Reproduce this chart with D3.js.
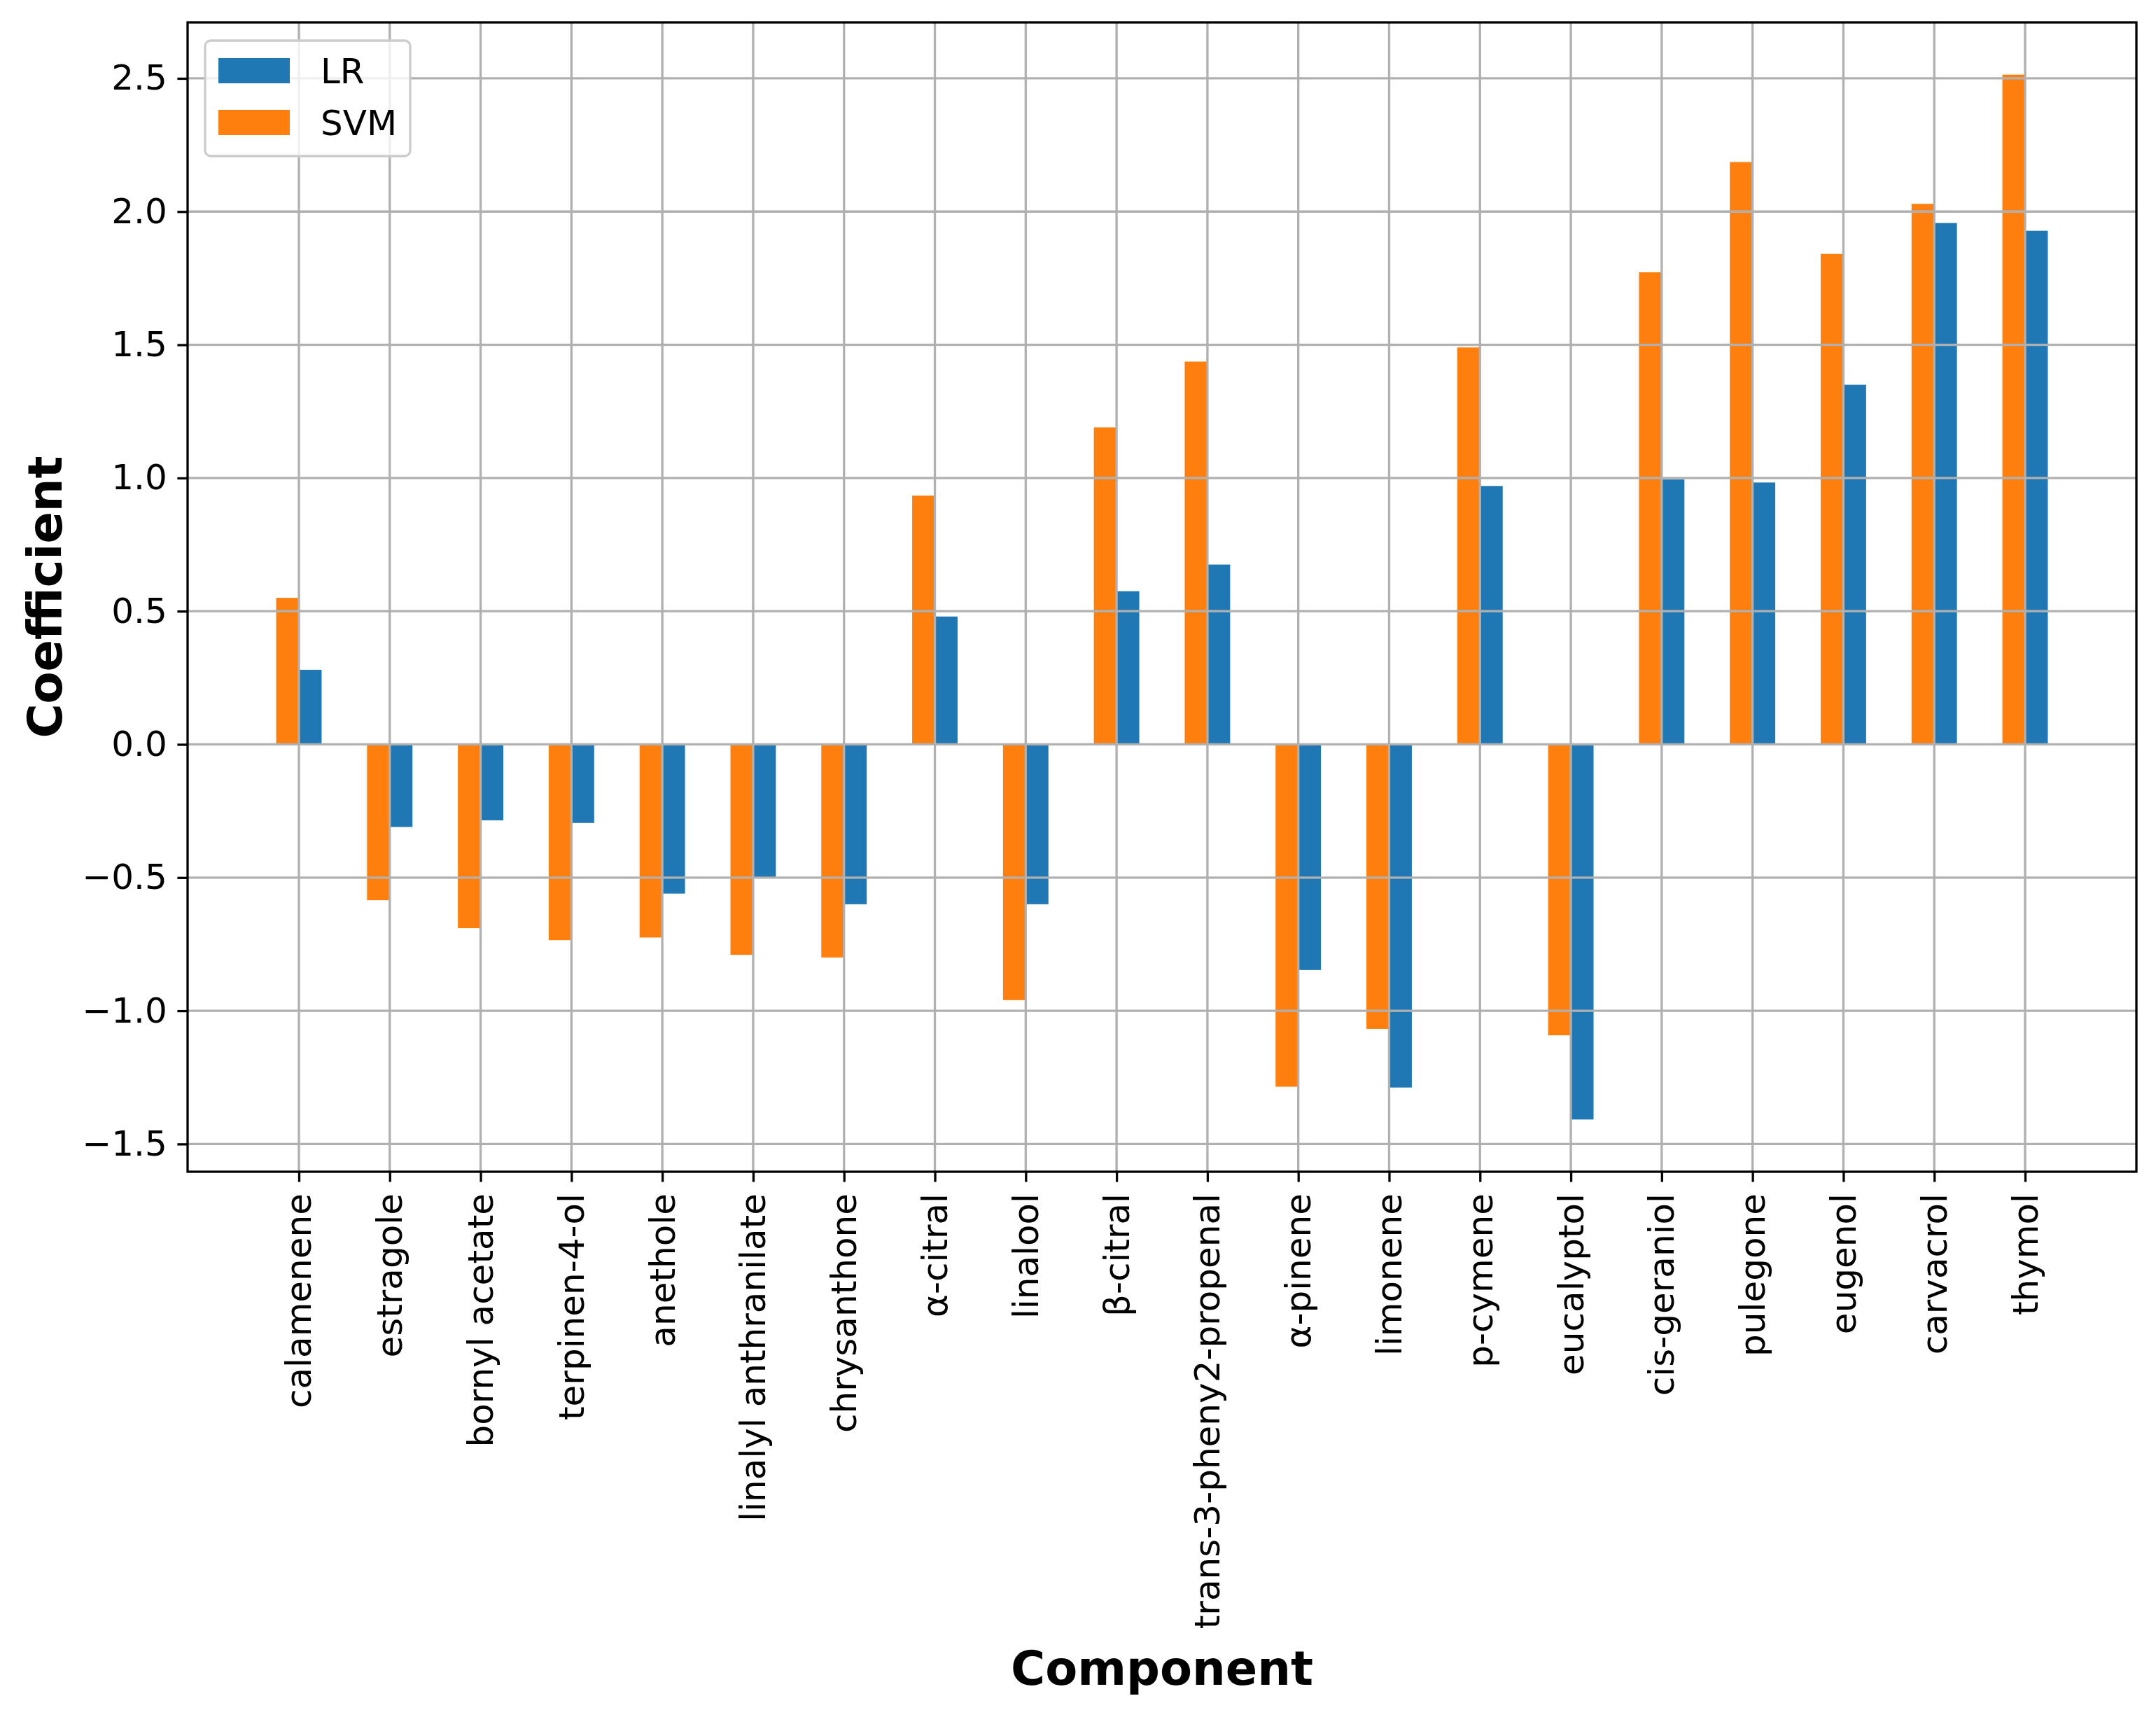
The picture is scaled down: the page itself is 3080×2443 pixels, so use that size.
<!DOCTYPE html>
<html lang="en">
<head>
    <meta charset="UTF-8">
    <title>Coefficient by component</title>
    <script src="https://d3js.org/d3.v7.min.js"></script>
    <style>
        body { margin: 0; background: #fff; }
        svg { display: block; font-family: "DejaVu Sans", sans-serif; }
    </style>
</head>
<body>
    <svg id="chart" width="3080" height="2443"></svg>

    <script>
        // Components along the x axis
        var components = ["calamenene", "estragole", "bornyl acetate", "terpinen-4-ol", "anethole",
            "linalyl anthranilate", "chrysanthone", "α-citral", "linalool", "β-citral",
            "trans-3-pheny2-propenal", "α-pinene", "limonene", "p-cymene", "eucalyptol",
            "cis-geraniol", "pulegone", "eugenol", "carvacrol", "thymol"];

        // Coefficients
        var lrValues = [0.28, -0.31, -0.285, -0.295, -0.56, -0.50, -0.60, 0.48, -0.60, 0.575,
            0.675, -0.847, -1.288, 0.97, -1.408, 0.995, 0.983, 1.35, 1.957, 1.928];
        var svmValues = [0.55, -0.585, -0.69, -0.735, -0.725, -0.79, -0.80, 0.934, -0.96, 1.19,
            1.437, -1.285, -1.068, 1.49, -1.092, 1.772, 2.186, 1.841, 2.029, 2.514];

        var yTicks = [-1.5, -1.0, -0.5, 0.0, 0.5, 1.0, 1.5, 2.0, 2.5];
        var seriesNames = ["LR", "SVM"];
        var seriesColors = ["#1f77b4", "#ff7f0e"];

        var svg = d3.select("#chart");
        svg.append("rect").attr("width", 3080).attr("height", 2443).attr("fill", "#fff");

        // plot box (note: "top" is taken by window.top, so use other names)
        var plotLeft = 268, plotRight = 3052, plotTop = 32, plotBottom = 1674;
        var barW = 0.25;
        var font = "DejaVu Sans";

        // matplotlib style auto margins (5%)
        var x = d3.scaleLinear().domain([-1.225, 20.225]).range([plotLeft, plotRight]);
        var yMin = d3.min(lrValues.concat(svmValues)), yMax = d3.max(lrValues.concat(svmValues));
        var pad = (yMax - yMin) * 0.05;
        var y = d3.scaleLinear().domain([yMin - pad, yMax + pad]).range([plotBottom, plotTop]);

        var plot = svg.append("g");

        // SVM bars sit left of the tick, LR bars right of it
        plot.selectAll(".svm-bar")
            .data(svmValues)
            .enter().append("rect")
            .attr("class", "svm-bar")
            .attr("x", (d, i) => x(i - barW))
            .attr("y", d => y(Math.max(0, d)))
            .attr("width", x(barW) - x(0))
            .attr("height", d => Math.abs(y(d) - y(0)))
            .attr("fill", seriesColors[1]);

        plot.selectAll(".lr-bar")
            .data(lrValues)
            .enter().append("rect")
            .attr("class", "lr-bar")
            .attr("x", (d, i) => x(i))
            .attr("y", d => y(Math.max(0, d)))
            .attr("width", x(barW) - x(0))
            .attr("height", d => Math.abs(y(d) - y(0)))
            .attr("fill", seriesColors[0]);

        // grid goes over the bars, like matplotlib's default
        var grid = svg.append("g").attr("stroke", "#b0b0b0").attr("stroke-width", 3.3);
        grid.selectAll(".hgrid").data(yTicks).enter().append("line")
            .attr("x1", plotLeft).attr("x2", plotRight)
            .attr("y1", d => y(d)).attr("y2", d => y(d));
        grid.selectAll(".vgrid").data(components).enter().append("line")
            .attr("x1", (d, i) => x(i)).attr("x2", (d, i) => x(i))
            .attr("y1", plotTop).attr("y2", plotBottom);

        // axes
        var xAxis = d3.axisBottom(x)
            .tickValues(d3.range(components.length))
            .tickFormat(i => components[i])
            .tickSize(14.6)
            .tickPadding(14.6);
        var gx = svg.append("g")
            .attr("transform", "translate(0," + plotBottom + ")")
            .call(xAxis)
            .attr("font-family", font);
        gx.select(".domain").remove();
        gx.selectAll("line").attr("stroke", "#000").attr("stroke-width", 3.3);
        gx.selectAll("text")
            .attr("font-size", "50px")
            .attr("fill", "#000")
            .attr("text-anchor", "end")
            .attr("dy", null)
            .attr("dominant-baseline", "central")
            .attr("transform", "translate(0,31) rotate(-90)")
            .attr("y", 0)
            .attr("x", 0);

        var yAxis = d3.axisLeft(y)
            .tickValues(yTicks)
            .tickFormat(d => d3.format(".1f")(d).replace("-", "−"))
            .tickSize(14.6)
            .tickPadding(14.6);
        var gy = svg.append("g")
            .attr("transform", "translate(" + plotLeft + ",0)")
            .call(yAxis)
            .attr("font-family", font);
        gy.select(".domain").remove();
        gy.selectAll("line").attr("stroke", "#000").attr("stroke-width", 3.3);
        gy.selectAll("text").attr("font-size", "50px").attr("fill", "#000");

        // frame
        svg.append("rect")
            .attr("x", plotLeft).attr("y", plotTop)
            .attr("width", plotRight - plotLeft).attr("height", plotBottom - plotTop)
            .attr("fill", "none").attr("stroke", "#000").attr("stroke-width", 3.3);

        // axis titles
        svg.append("text")
            .attr("x", (plotLeft + plotRight) / 2)
            .attr("y", 2407)
            .attr("text-anchor", "middle")
            .attr("font-size", "67px")
            .attr("font-weight", "bold")
            .text("Component");

        svg.append("text")
            .attr("transform", "translate(88," + (plotTop + plotBottom) / 2 + ") rotate(-90)")
            .attr("text-anchor", "middle")
            .attr("font-size", "67px")
            .attr("font-weight", "bold")
            .text("Coefficient");

        // legend
        var legend = svg.append("g").attr("transform", "translate(293,58)");
        legend.append("rect")
            .attr("width", 293).attr("height", 165)
            .attr("rx", 8).attr("ry", 8)
            .attr("fill", "#fff").attr("fill-opacity", 0.8)
            .attr("stroke", "#cccccc").attr("stroke-width", 3.3);

        var items = legend.selectAll(".legend-item")
            .data(seriesNames)
            .enter().append("g")
            .attr("class", "legend-item")
            .attr("transform", (d, i) => "translate(0," + (43 + i * 74) + ")");
        items.append("rect")
            .attr("x", 19).attr("y", -18)
            .attr("width", 102).attr("height", 36)
            .attr("fill", (d, i) => seriesColors[i]);
        items.append("text")
            .attr("x", 165)
            .attr("dy", "0.36em")
            .attr("font-size", "50px")
            .text(d => d);
    </script>
</body>
</html>
